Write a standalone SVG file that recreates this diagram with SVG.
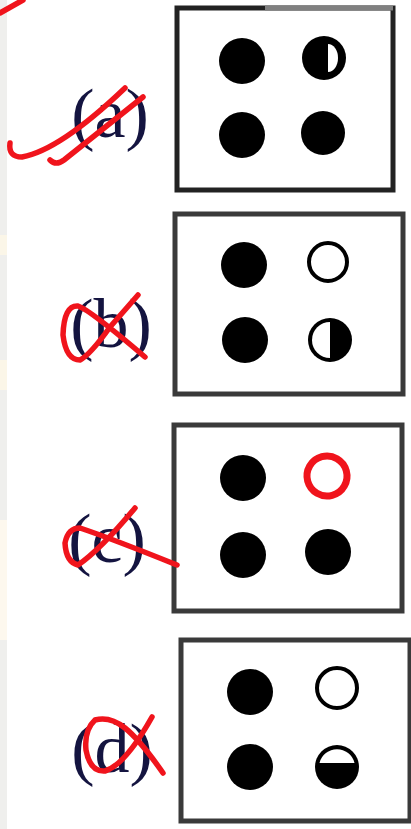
<svg xmlns="http://www.w3.org/2000/svg" width="411" height="829" viewBox="0 0 411 829">
<style>
.box{fill:#fff;stroke:#222;stroke-width:5}
.dot{fill:#000}
.open{fill:#fff;stroke:#000;stroke-width:4}
.lbl{font-family:"Liberation Serif","Times New Roman",serif;font-size:70px;fill:#141440;text-anchor:middle}
.red{fill:none;stroke:#f0141c;stroke-width:5.5;stroke-linecap:round;stroke-linejoin:round}
</style>
<rect width="411" height="829" fill="#fff"/>
<rect x="0" y="0" width="7" height="829" fill="#efefed"/>
<rect x="0" y="235" width="7" height="20" fill="#fbf6e8"/>
<rect x="0" y="360" width="7" height="30" fill="#fbf6e8"/>
<rect x="0" y="520" width="7" height="120" fill="#fdf8ee"/>

<g id="panel-a">
<rect class="box" x="177" y="8" width="216" height="182"/>
<path d="M265,8 H393" stroke="#808080" stroke-width="5"/>
<circle class="dot" cx="242" cy="61" r="23"/>
<circle class="dot" cx="324" cy="58" r="22"/>
<path d="M328,44 A10,14 0 0,1 328,72 Z" fill="#fff"/>
<circle class="dot" cx="242" cy="135" r="23"/>
<circle class="dot" cx="323" cy="133" r="22"/>
<text class="lbl" x="110" y="137">(a)</text>
</g>

<g id="panel-b">
<rect class="box" x="175" y="214" width="228" height="180" style="stroke:#3a3a3a"/>
<circle class="dot" cx="244" cy="265" r="23"/>
<circle class="open" cx="328" cy="262" r="19"/>
<circle class="dot" cx="245" cy="340" r="23"/>
<circle class="dot" cx="330" cy="340" r="22"/>
<path d="M330,322 A18,18 0 0,0 330,358 Z" fill="#fff"/>
<text class="lbl" x="111" y="347">(b)</text>
</g>

<g id="panel-c">
<rect class="box" x="174" y="425" width="228" height="186" style="stroke:#3a3a3a"/>
<circle class="dot" cx="243" cy="478" r="23"/>
<circle class="dot" cx="243" cy="555" r="23"/>
<circle class="dot" cx="328" cy="552" r="23"/>
<text class="lbl" x="107" y="562">(c)</text>
</g>

<g id="panel-d">
<rect class="box" x="181" y="640" width="229" height="181" style="stroke:#3a3a3a"/>
<circle class="dot" cx="250" cy="692" r="23"/>
<circle class="open" cx="337" cy="688" r="20"/>
<circle class="dot" cx="250" cy="767" r="23"/>
<circle class="dot" cx="337" cy="767" r="22"/>
<path d="M319.5,763 A18,18 0 0,1 354.5,763 Z" fill="#fff"/>
<text class="lbl" x="112" y="772">(d)</text>
</g>

<g id="red-marks">
<path class="red" d="M0,13 L23,0"/>
<path class="red" d="M10,143 Q8,157 22,157 Q60,150 125,88"/>
<path class="red" d="M50,160 Q56,166 64,160 L143,97"/>
<path class="red" d="M138,295 L110,327 Q90,355 80,360 Q66,360 63,335 Q64,305 78,306 Q90,310 145,357"/>
<path class="red" d="M135,508 Q100,550 78,565 Q66,562 65,543 Q68,528 80,528 Q110,538 177,565"/>
<path class="red" d="M163,773 Q140,740 125,728 Q110,716 95,720 Q84,730 86,750 Q90,772 105,771 Q125,765 152,717"/>
<ellipse cx="327" cy="476" rx="20" ry="20" transform="rotate(-15 327 476)" fill="none" stroke="#f0141c" stroke-width="7"/>
</g>
</svg>
